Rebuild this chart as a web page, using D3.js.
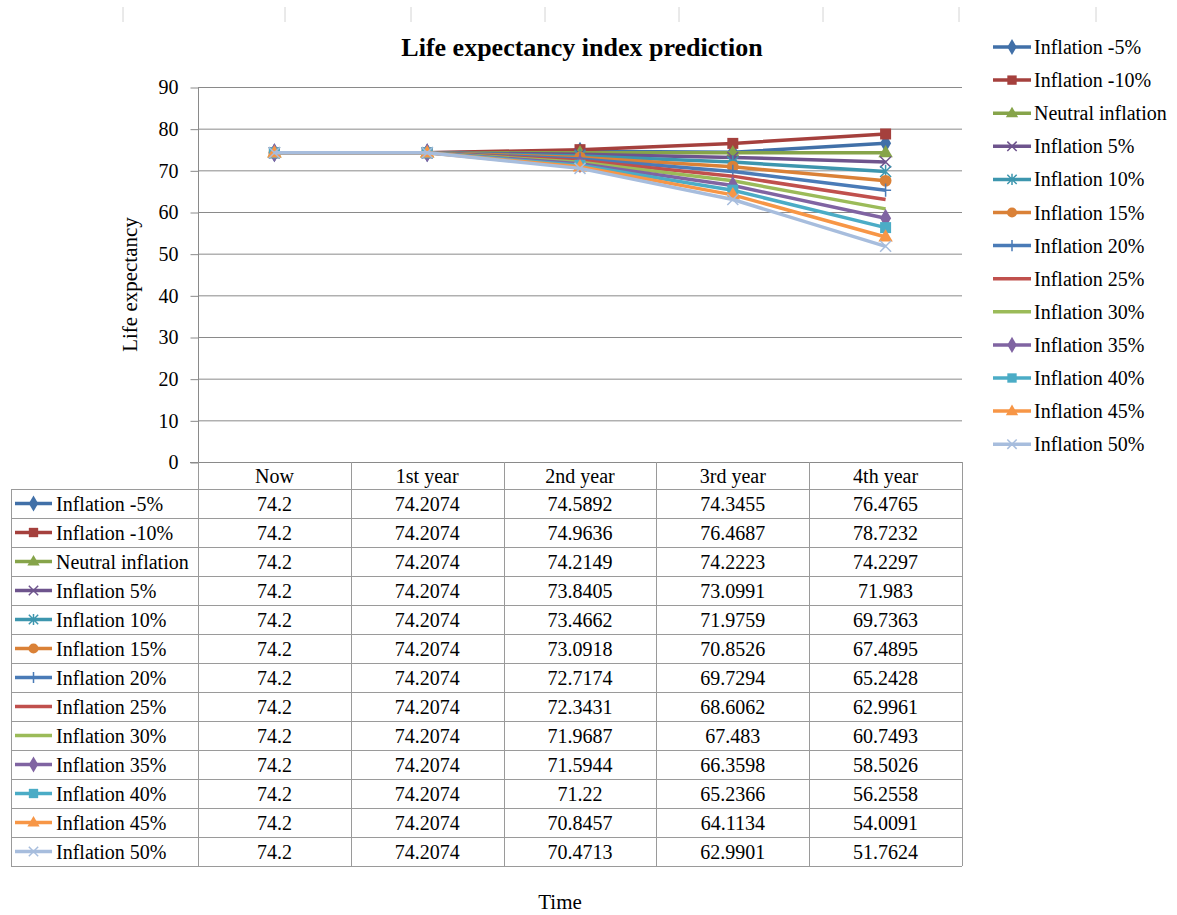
<!DOCTYPE html>
<html>
<head>
<meta charset="utf-8">
<script src="https://cdn.jsdelivr.net/npm/d3@7"></script>
<style>
  html, body { margin: 0; padding: 0; background: #fff; }
  svg text { font-family: "Liberation Serif", "Times New Roman", serif; fill: #000; }
</style>
</head>
<body>
<svg id="chart" width="1177" height="915"></svg>
<script>
// ---------------- DATA ----------------
const categories = ["Now", "1st year", "2nd year", "3rd year", "4th year"];
const seriesNames = [
  "Inflation -5%", "Inflation -10%", "Neutral inflation", "Inflation 5%",
  "Inflation 10%", "Inflation 15%", "Inflation 20%", "Inflation 25%",
  "Inflation 30%", "Inflation 35%", "Inflation 40%", "Inflation 45%", "Inflation 50%"
];
const inflationM5  = [74.2, 74.2074, 74.5892, 74.3455, 76.4765];
const inflationM10 = [74.2, 74.2074, 74.9636, 76.4687, 78.7232];
const neutral      = [74.2, 74.2074, 74.2149, 74.2223, 74.2297];
const inflation5   = [74.2, 74.2074, 73.8405, 73.0991, 71.983];
const inflation10  = [74.2, 74.2074, 73.4662, 71.9759, 69.7363];
const inflation15  = [74.2, 74.2074, 73.0918, 70.8526, 67.4895];
const inflation20  = [74.2, 74.2074, 72.7174, 69.7294, 65.2428];
const inflation25  = [74.2, 74.2074, 72.3431, 68.6062, 62.9961];
const inflation30  = [74.2, 74.2074, 71.9687, 67.483, 60.7493];
const inflation35  = [74.2, 74.2074, 71.5944, 66.3598, 58.5026];
const inflation40  = [74.2, 74.2074, 71.22, 65.2366, 56.2558];
const inflation45  = [74.2, 74.2074, 70.8457, 64.1134, 54.0091];
const inflation50  = [74.2, 74.2074, 70.4713, 62.9901, 51.7624];
const seriesValues = [inflationM5, inflationM10, neutral, inflation5, inflation10, inflation15,
  inflation20, inflation25, inflation30, inflation35, inflation40, inflation45, inflation50];
const seriesColors = ["#4170A8", "#A5403D", "#86A44A", "#6E548D", "#3D96AE", "#DA8137",
  "#4A7BB7", "#C0504D", "#9BBB59", "#8064A2", "#4BACC6", "#F79646", "#A7BDDD"];
const seriesMarkers = ["diamond", "square", "triangle", "x", "star", "circle", "plus",
  "none", "none", "diamond", "square", "triangle", "x"];
const yTicks = [0, 10, 20, 30, 40, 50, 60, 70, 80, 90];
const titleText = "Life expectancy index prediction";
const yAxisTitle = "Life expectancy";
const xAxisTitle = "Time";

// ---------------- LAYOUT ----------------
const plot = { left: 198, right: 962, top: 87, bottom: 462 };
const tableLeft = 11, headerH = 27, rowH = 29;
const FONT = 20;

const svg = d3.select("#chart");

const x = d3.scaleBand().domain(categories).range([plot.left, plot.right]).padding(0);
const xc = c => x(c) + x.bandwidth() / 2;
const y = d3.scaleLinear().domain([0, 90]).range([plot.bottom, plot.top]);

// faint decorative top marks
const topMarks = [123, 285, 411, 545, 679, 823, 959, 1096];
svg.append("g").selectAll("line").data(topMarks).join("line")
  .attr("x1", d => d).attr("x2", d => d).attr("y1", 7).attr("y2", 22)
  .attr("stroke", "#d4d4d4").attr("stroke-width", 1);

// gridlines
svg.append("g").selectAll("line").data(yTicks.filter(t => t > 0)).join("line")
  .attr("x1", plot.left).attr("x2", plot.right)
  .attr("y1", d => y(d) + 0.5).attr("y2", d => y(d) + 0.5)
  .attr("stroke", "#8a8a8a").attr("stroke-width", 1);

// y axis
const yAxis = d3.axisLeft(y).tickValues(yTicks).tickSize(8).tickPadding(12).tickFormat(d3.format("d"));
const gy = svg.append("g").attr("transform", `translate(${plot.left + 0.5},0.5)`).call(yAxis);
gy.select(".domain").attr("stroke", "#8a8a8a").attr("d", `M0,${plot.top}V${plot.bottom}`);
gy.selectAll(".tick line").attr("stroke", "#8a8a8a");
gy.selectAll(".tick text").style("font-size", FONT + "px").style("font-family", '"Liberation Serif", serif');

// x axis line (zero line)
svg.append("line").attr("x1", plot.left - 8).attr("x2", plot.right)
  .attr("y1", plot.bottom + 0.5).attr("y2", plot.bottom + 0.5)
  .attr("stroke", "#8a8a8a");

// ---------------- DATA TABLE ----------------
const tableTop = plot.bottom + headerH;
const tableBottom = tableTop + rowH * seriesNames.length;
const tg = svg.append("g");
const colEdges = categories.map(c => x(c)).concat([plot.right]);
tg.selectAll("line.col").data(colEdges).join("line").attr("class", "col")
  .attr("x1", d => Math.round(d) + 0.5).attr("x2", d => Math.round(d) + 0.5)
  .attr("y1", plot.bottom).attr("y2", tableBottom)
  .attr("stroke", "#9a9a9a");
tg.append("line").attr("x1", tableLeft + 0.5).attr("x2", tableLeft + 0.5)
  .attr("y1", tableTop).attr("y2", tableBottom).attr("stroke", "#9a9a9a");
tg.selectAll("line.row").data(d3.range(seriesNames.length + 1)).join("line").attr("class", "row")
  .attr("x1", tableLeft).attr("x2", plot.right)
  .attr("y1", i => tableTop + i * rowH + 0.5).attr("y2", i => tableTop + i * rowH + 0.5)
  .attr("stroke", "#9a9a9a");
tg.selectAll("text.hdr").data(categories).join("text").attr("class", "hdr")
  .attr("x", d => xc(d)).attr("y", plot.bottom + headerH / 2)
  .attr("text-anchor", "middle").attr("dominant-baseline", "central")
  .style("font-size", FONT + "px").text(d => d);

// ---------------- MARKERS ----------------
function drawMarker(g, type, color, cx, cy, scale) {
  const s = scale || 1;
  if (type === "none") return;
  if (type === "diamond") {
    g.append("path").attr("d", d3.symbol(d3.symbolDiamond, 105 * s * s)()).attr("transform", `translate(${cx},${cy})`).attr("fill", color);
  } else if (type === "square") {
    g.append("path").attr("d", d3.symbol(d3.symbolSquare, 121 * s * s)()).attr("transform", `translate(${cx},${cy})`).attr("fill", color);
  } else if (type === "triangle") {
    g.append("path").attr("d", d3.symbol(d3.symbolTriangle, 90 * s * s)()).attr("transform", `translate(${cx},${cy + 0.5})`).attr("fill", color);
  } else if (type === "circle") {
    g.append("path").attr("d", d3.symbol(d3.symbolCircle, 110 * s * s)()).attr("transform", `translate(${cx},${cy})`).attr("fill", color);
  } else if (type === "x" || type === "star" || type === "plus") {
    const r = 5.5 * s;
    const p = d3.path();
    if (type !== "plus") { p.moveTo(-r, -r); p.lineTo(r, r); p.moveTo(-r, r); p.lineTo(r, -r); }
    if (type === "star" || type === "plus") { p.moveTo(0, -r * 1.2); p.lineTo(0, r * 1.2); }
    if (type === "plus") { p.moveTo(-r, 0); p.lineTo(r, 0); }
    g.append("path").attr("d", p.toString()).attr("transform", `translate(${cx},${cy})`)
      .attr("fill", "none").attr("stroke", color).attr("stroke-width", 1.5);
  }
}

// table rows: key + label + values
seriesNames.forEach((name, i) => {
  const cy = tableTop + i * rowH + rowH / 2;
  const row = tg.append("g");
  row.append("line").attr("x1", 15).attr("x2", 52).attr("y1", cy).attr("y2", cy)
    .attr("stroke", seriesColors[i]).attr("stroke-width", 3.5);
  drawMarker(row, seriesMarkers[i], seriesColors[i], 33.5, cy, 0.85);
  row.append("text").attr("x", 56).attr("y", cy).attr("dominant-baseline", "central")
    .style("font-size", FONT + "px").text(name);
  row.selectAll("text.val").data(seriesValues[i]).join("text").attr("class", "val")
    .attr("x", (d, j) => xc(categories[j])).attr("y", cy)
    .attr("text-anchor", "middle").attr("dominant-baseline", "central")
    .style("font-size", FONT + "px").text(d => String(d));
});

// ---------------- LINES ----------------
const line = d3.line().x((d, j) => xc(categories[j])).y(d => y(d));
const lg = svg.append("g");
seriesValues.forEach((vals, i) => {
  const g = lg.append("g");
  g.append("path").datum(vals).attr("d", line).attr("fill", "none")
    .attr("stroke", seriesColors[i]).attr("stroke-width", 3.5).attr("stroke-linejoin", "round");
  vals.forEach((v, j) => drawMarker(g, seriesMarkers[i], seriesColors[i], xc(categories[j]), y(v), 1));
});

// ---------------- LEGEND ----------------
const legend = svg.append("g");
seriesNames.forEach((name, i) => {
  const cy = 47 + i * 33.1;
  legend.append("line").attr("x1", 993).attr("x2", 1031).attr("y1", cy).attr("y2", cy)
    .attr("stroke", seriesColors[i]).attr("stroke-width", 3.5);
  drawMarker(legend, seriesMarkers[i], seriesColors[i], 1012, cy, 0.85);
  legend.append("text").attr("x", 1034).attr("y", cy).attr("dominant-baseline", "central")
    .style("font-size", FONT + "px").text(name);
});

// ---------------- TITLES ----------------
svg.append("text").attr("x", 582).attr("y", 56).attr("text-anchor", "middle")
  .style("font-size", "26px").style("font-weight", "bold").text(titleText);
svg.append("text").attr("transform", `translate(137,${(plot.top + plot.bottom) / 2 + 10}) rotate(-90)`)
  .attr("text-anchor", "middle").style("font-size", "21px").text(yAxisTitle);
svg.append("text").attr("x", 560).attr("y", 909).attr("text-anchor", "middle")
  .style("font-size", "21px").text(xAxisTitle);
</script>
</body>
</html>
